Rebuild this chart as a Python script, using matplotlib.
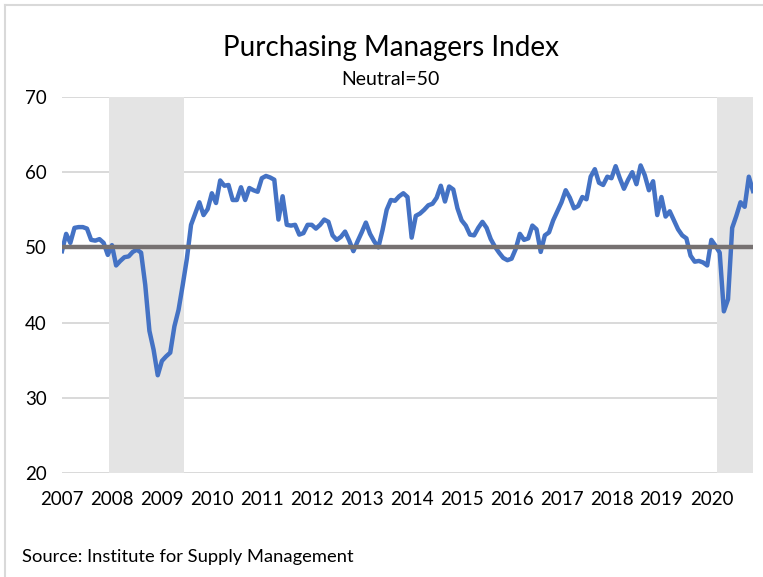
import matplotlib
matplotlib.use("Agg")
import matplotlib.pyplot as plt
from matplotlib.lines import Line2D

# monthly ISM PMI, Jan 2007 .. Nov 2020
pmi_2007 = [49.5, 51.8, 50.6, 52.6, 52.7, 52.7, 52.5, 51.0, 50.9, 51.1, 50.6, 49.0]
pmi_2008 = [50.3, 47.6, 48.2, 48.7, 48.8, 49.4, 49.7, 49.3, 45.0, 38.9, 36.4, 33.0]
pmi_2009 = [34.9, 35.5, 36.0, 39.5, 41.7, 45.0, 48.5, 53.0, 54.5, 56.0, 54.3, 55.1]
pmi_2010 = [57.2, 55.9, 58.9, 58.2, 58.3, 56.3, 56.3, 58.0, 56.3, 57.9, 57.6, 57.4]
pmi_2011 = [59.2, 59.5, 59.3, 59.0, 53.7, 56.8, 53.0, 52.9, 53.0, 51.7, 51.9, 53.0]
pmi_2012 = [53.0, 52.5, 53.0, 53.7, 53.4, 51.6, 51.0, 51.4, 52.1, 50.9, 49.5, 50.8]
pmi_2013 = [52.0, 53.3, 51.8, 50.8, 50.0, 52.3, 55.0, 56.3, 56.2, 56.8, 57.2, 56.7]
pmi_2014 = [51.3, 54.2, 54.5, 55.0, 55.6, 55.8, 56.6, 58.2, 56.1, 58.1, 57.7, 55.2]
pmi_2015 = [53.6, 52.9, 51.7, 51.6, 52.6, 53.4, 52.6, 51.1, 50.1, 49.3, 48.6, 48.3]
pmi_2016 = [48.5, 49.8, 51.8, 51.0, 51.2, 52.9, 52.4, 49.4, 51.6, 52.0, 53.6, 54.8]
pmi_2017 = [56.0, 57.6, 56.6, 55.2, 55.5, 56.7, 56.4, 59.4, 60.4, 58.6, 58.3, 59.4]
pmi_2018 = [59.2, 60.8, 59.2, 57.8, 59.0, 60.0, 58.4, 60.9, 59.6, 57.6, 58.8, 54.3]
pmi_2019 = [56.7, 54.1, 54.8, 53.6, 52.4, 51.6, 51.2, 48.9, 48.1, 48.2, 48.0, 47.6]
pmi_2020 = [51.0, 50.2, 49.3, 41.5, 43.1, 52.6, 54.2, 56.0, 55.4, 59.4, 57.5]

pmi = (pmi_2007 + pmi_2008 + pmi_2009 + pmi_2010 + pmi_2011 + pmi_2012 + pmi_2013
       + pmi_2014 + pmi_2015 + pmi_2016 + pmi_2017 + pmi_2018 + pmi_2019 + pmi_2020)

years = [str(y) for y in range(2007, 2021)]
neutral = 50
# recessions as (first month index, last month index) counted from Jan 2007
recessions = [(11, 29), (157, 166)]

months = list(range(len(pmi)))

plt.rcParams["font.family"] = ["Lato", "DejaVu Sans"]

fig = plt.figure(figsize=(7.63, 5.77), dpi=100)
ax = fig.add_axes([62 / 763, 1 - 473 / 577, 691 / 763, 376 / 577])

for start, end in recessions:
    ax.axvspan(start + 0.3, min(end + 0.4, months[-1]), color="#e4e4e4", lw=0, zorder=1)

ax.plot(months, pmi, color="#4472c4", lw=3.2, solid_joinstyle="round", zorder=3)
ax.plot([months[0], months[-1]], [neutral, neutral], color="#767171", lw=3.2, zorder=4)

ax.set_xlim(months[0], months[-1])
ax.set_ylim(20, 70)
ax.set_yticks(range(20, 71, 10))
ax.set_xticks(range(0, 12 * len(years), 12))
ax.set_xticklabels(years)
ax.grid(axis="y", color="#d9d9d9", lw=1.4, zorder=0)
ax.set_axisbelow(True)
ax.tick_params(length=0, labelsize=13.5, colors="#000000")
ax.tick_params(axis="x", pad=13)
ax.tick_params(axis="y", pad=11)
for s in ax.spines.values():
    s.set_visible(False)

fig.text(0.512, 1 - 48 / 577, "Purchasing Managers Index", ha="center", va="center", fontsize=20)
fig.text(0.512, 1 - 80 / 577, "Neutral=50", ha="center", va="center", fontsize=14)
fig.text(22 / 763, 1 - 557 / 577, "Source: Institute for Supply Management", ha="left",
         va="center", fontsize=13.2)

# chart frame (top and left edges visible)
fig.add_artist(Line2D([5 / 763, 1], [1 - 5 / 577, 1 - 5 / 577], color="#d9d9d9", lw=1.5))
fig.add_artist(Line2D([5 / 763, 5 / 763], [0, 1 - 5 / 577], color="#d9d9d9", lw=1.5))

fig.savefig("out.png", dpi=100)
